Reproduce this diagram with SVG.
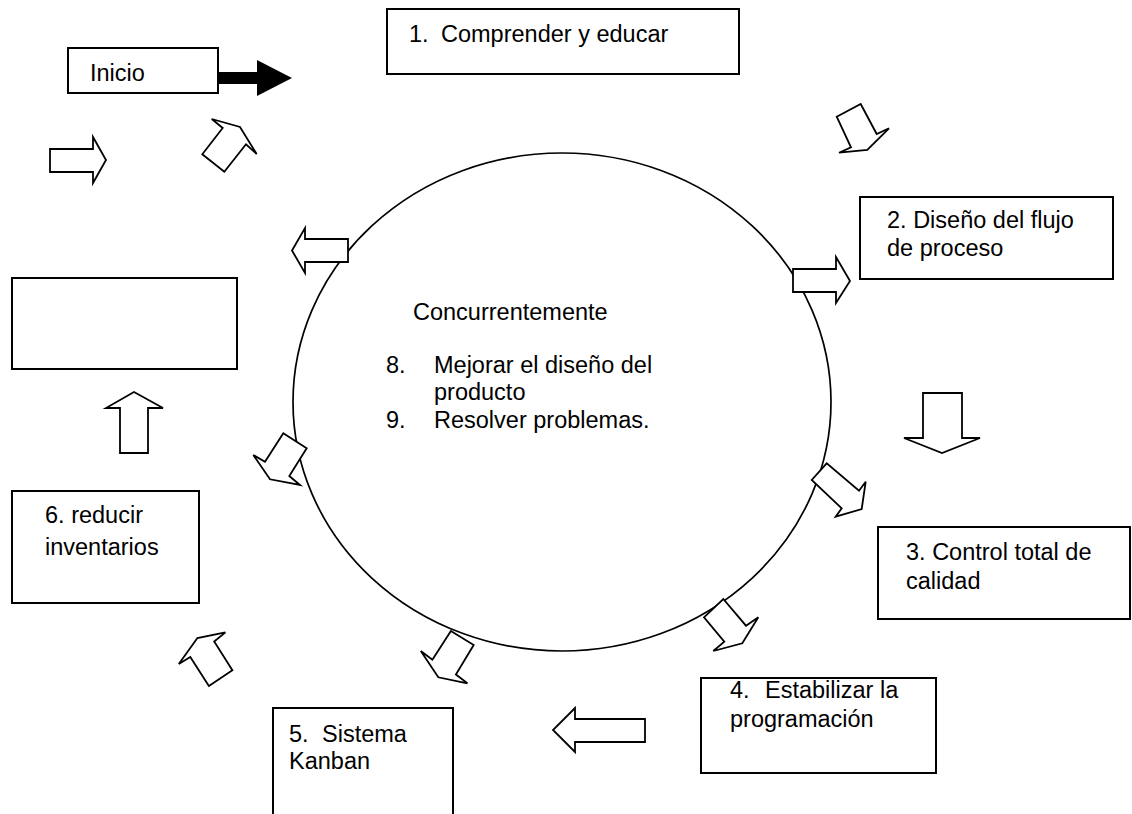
<svg xmlns="http://www.w3.org/2000/svg" width="1132" height="814" viewBox="0 0 1132 814">
  <style>
    .box { fill: #ffffff; stroke: #000000; stroke-width: 2; }
    .t { font-family: "Liberation Sans", Arial, sans-serif; font-size: 23.5px; fill: #000000; }
    .ell { fill: #ffffff; stroke: #000000; stroke-width: 1.7; }
    .blk { fill: #ffffff; stroke: #000000; stroke-width: 1.8; stroke-linejoin: miter; }
    .solid { fill: #000000; stroke: none; }
  </style>
  <rect x="0" y="0" width="1132" height="814" fill="#ffffff"/>

  <g id="center">
    <ellipse class="ell" cx="562" cy="402" rx="269" ry="249"/>
    <text class="t" x="413" y="320">Concurrentemente</text>
    <text class="t" x="386" y="373">8.</text>
    <text class="t" x="434" y="373">Mejorar el diseño del</text>
    <text class="t" x="434" y="400">producto</text>
    <text class="t" x="386" y="428">9.</text>
    <text class="t" x="434" y="428">Resolver problemas.</text>
  </g>

  <g id="inicio">
    <rect class="box" x="68" y="48" width="150" height="45"/>
    <text class="t" x="90" y="81">Inicio</text>
  </g>

  <g id="step1">
    <rect class="box" x="387" y="9" width="352" height="65"/>
    <text class="t" x="409" y="42">1.</text>
    <text class="t" x="441" y="42">Comprender y educar</text>
  </g>

  <g id="step2">
    <rect class="box" x="860" y="197" width="253" height="82"/>
    <text class="t" x="887" y="228">2. Diseño del flujo</text>
    <text class="t" x="887" y="256">de proceso</text>
  </g>

  <g id="step3">
    <rect class="box" x="878" y="527" width="252" height="92"/>
    <text class="t" x="906" y="560">3. Control total de</text>
    <text class="t" x="906" y="589">calidad</text>
  </g>

  <g id="step4">
    <rect class="box" x="701" y="678" width="235" height="95"/>
    <text class="t" x="730" y="698">4.</text>
    <text class="t" x="765" y="698">Estabilizar la</text>
    <text class="t" x="730" y="727">programación</text>
  </g>

  <g id="step5">
    <rect class="box" x="273" y="708" width="180" height="130"/>
    <text class="t" x="289" y="742">5.</text>
    <text class="t" x="322" y="742">Sistema</text>
    <text class="t" x="289" y="769">Kanban</text>
  </g>

  <g id="step6">
    <rect class="box" x="12" y="491" width="187" height="112"/>
    <text class="t" x="45" y="523">6. reducir</text>
    <text class="t" x="45" y="555">inventarios</text>
  </g>

  <g id="blank">
    <rect class="box" x="12" y="278" width="225" height="91"/>
  </g>

  <g id="connectors">
    <polygon class="solid" points="218,72 257,72 257,60 292,78 257,96 257,84 218,84"/>
    <polygon class="blk" points="50,149 93,149 93,137 106,160 93,183 93,172 50,172"/>
    <polygon class="blk" points="211.7,119 240,127 256.7,154 246,144.3 224.3,171.7 202.3,154.3 222.7,128"/>
    <polygon class="blk" points="836.7,116.7 860.7,104 876.7,134 889,128.3 867.3,150 839,152.7 851,147.3"/>
    <polygon class="blk" points="793,269 836,269 836,257 850,281 836,303 836,292 793,292"/>
    <polygon class="blk" points="348,239 305,239 305,228 292,250.5 305,273 305,262 348,262"/>
    <polygon class="blk" points="923,393 962,393 962,438 980,438 942,453 904,438 923,438"/>
    <polygon class="blk" points="120,453 120,408 106,408 134,392 163,408 148,408 148,453"/>
    <polygon class="blk" points="811.7,480 826.7,463.3 859,490.7 865.7,481.7 861.7,509 835.7,516.7 841.7,508.3"/>
    <polygon class="blk" points="704,617.3 723.3,599 746,625.7 758.3,617.3 742.3,643.3 713.3,651 724.3,641.7"/>
    <polygon class="blk" points="283.3,433.3 306.7,448.3 289.3,476 300,485 270,479.3 253.3,455 265,461.7"/>
    <polygon class="blk" points="450.9,631 473.7,645 455.9,674.5 467.4,683.3 438.3,677.3 420.8,651 432.4,659.8"/>
    <polygon class="blk" points="178.8,663.9 197.4,638 225.4,632.4 214.2,641.5 232.4,670.2 208.9,686 190.3,656.9"/>
    <polygon class="blk" points="645,719 575,719 575,708 553,730 575,752 575,742 645,742"/>
  </g>
</svg>
